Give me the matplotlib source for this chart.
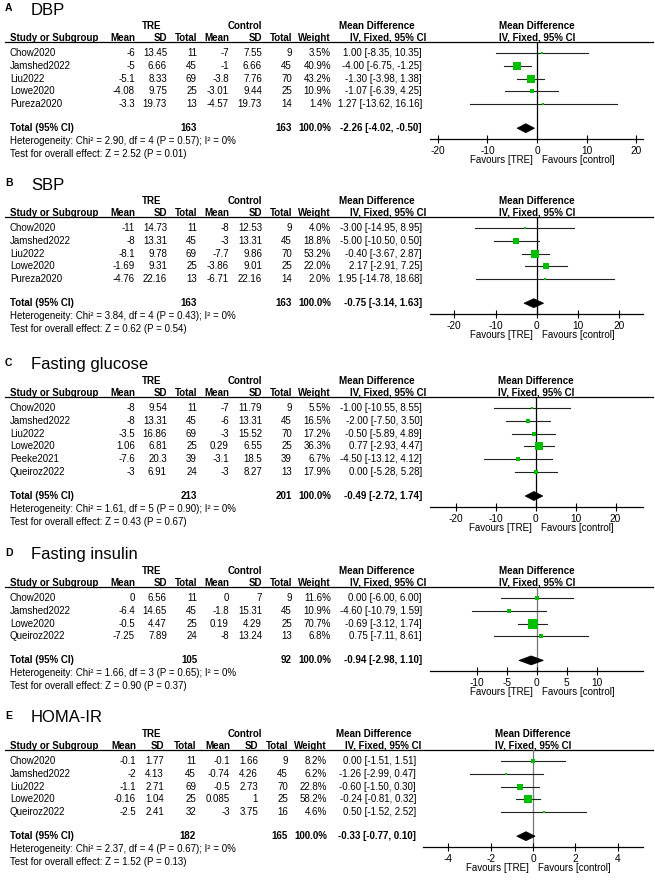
import matplotlib
matplotlib.use('Agg')
import matplotlib.pyplot as plt
from matplotlib.patches import Polygon
import numpy as np

plt.rcParams['font.family'] = ['Liberation Sans', 'DejaVu Sans']
plt.rcParams['axes.unicode_minus'] = False

letters = ['A', 'B', 'C', 'D', 'E']
titles = ['DBP', 'SBP', 'Fasting glucose', 'Fasting insulin', 'HOMA-IR']

studies = [
    ['Chow2020', 'Jamshed2022', 'Liu2022', 'Lowe2020', 'Pureza2020'],
    ['Chow2020', 'Jamshed2022', 'Liu2022', 'Lowe2020', 'Pureza2020'],
    ['Chow2020', 'Jamshed2022', 'Liu2022', 'Lowe2020', 'Peeke2021', 'Queiroz2022'],
    ['Chow2020', 'Jamshed2022', 'Lowe2020', 'Queiroz2022'],
    ['Chow2020', 'Jamshed2022', 'Liu2022', 'Lowe2020', 'Queiroz2022'],
]
tre_mean = [
    [-6, -5, -5.1, -4.08, -3.3],
    [-11, -8, -8.1, -1.69, -4.76],
    [-8, -8, -3.5, 1.06, -7.6, -3],
    [0, -6.4, -0.5, -7.25],
    [-0.1, -2, -1.1, -0.16, -2.5],
]
tre_sd = [
    [13.45, 6.66, 8.33, 9.75, 19.73],
    [14.73, 13.31, 9.78, 9.31, 22.16],
    [9.54, 13.31, 16.86, 6.81, 20.3, 6.91],
    [6.56, 14.65, 4.47, 7.89],
    [1.77, 4.13, 2.71, 1.04, 2.41],
]
tre_n = [
    [11, 45, 69, 25, 13],
    [11, 45, 69, 25, 13],
    [11, 45, 69, 25, 39, 24],
    [11, 45, 25, 24],
    [11, 45, 69, 25, 32],
]
ctl_mean = [
    [-7, -1, -3.8, -3.01, -4.57],
    [-8, -3, -7.7, -3.86, -6.71],
    [-7, -6, -3, 0.29, -3.1, -3],
    [0, -1.8, 0.19, -8],
    [-0.1, -0.74, -0.5, 0.085, -3],
]
ctl_sd = [
    [7.55, 6.66, 7.76, 9.44, 19.73],
    [12.53, 13.31, 9.86, 9.01, 22.16],
    [11.79, 13.31, 15.52, 6.55, 18.5, 8.27],
    [7, 15.31, 4.29, 13.24],
    [1.66, 4.26, 2.73, 1, 3.75],
]
ctl_n = [
    [9, 45, 70, 25, 14],
    [9, 45, 70, 25, 14],
    [9, 45, 70, 25, 39, 13],
    [9, 45, 25, 13],
    [9, 45, 70, 25, 16],
]
weights = [
    [3.5, 40.9, 43.2, 10.9, 1.4],
    [4.0, 18.8, 53.2, 22.0, 2.0],
    [5.5, 16.5, 17.2, 36.3, 6.7, 17.9],
    [11.6, 10.9, 70.7, 6.8],
    [8.2, 6.2, 22.8, 58.2, 4.6],
]
md = [
    [1.00, -4.00, -1.30, -1.07, 1.27],
    [-3.00, -5.00, -0.40, 2.17, 1.95],
    [-1.00, -2.00, -0.50, 0.77, -4.50, 0.00],
    [0.00, -4.60, -0.69, 0.75],
    [0.00, -1.26, -0.60, -0.24, 0.50],
]
ci_lo = [
    [-8.35, -6.75, -3.98, -6.39, -13.62],
    [-14.95, -10.50, -3.67, -2.91, -14.78],
    [-10.55, -7.50, -5.89, -2.93, -13.12, -5.28],
    [-6.00, -10.79, -3.12, -7.11],
    [-1.51, -2.99, -1.50, -0.81, -1.52],
]
ci_hi = [
    [10.35, -1.25, 1.38, 4.25, 16.16],
    [8.95, 0.50, 2.87, 7.25, 18.68],
    [8.55, 3.50, 4.89, 4.47, 4.12, 5.28],
    [6.00, 1.59, 1.74, 8.61],
    [1.51, 0.47, 0.30, 0.32, 2.52],
]
pooled_md = [-2.26, -0.75, -0.49, -0.94, -0.33]
pooled_lo = [-4.02, -3.14, -2.72, -2.98, -0.77]
pooled_hi = [-0.50, 1.63, 1.74, 1.10, 0.10]
chi2 = [2.90, 3.84, 1.61, 1.66, 2.37]
het_df = [4, 4, 5, 3, 4]
het_p = [0.57, 0.43, 0.90, 0.65, 0.67]
i2 = [0, 0, 0, 0, 0]
z_val = [2.52, 0.62, 0.43, 0.90, 1.52]
z_p = [0.01, 0.54, 0.67, 0.37, 0.13]
x_ticks = [
    [-20, -10, 0, 10, 20],
    [-20, -10, 0, 10, 20],
    [-20, -10, 0, 10, 20],
    [-10, -5, 0, 5, 10],
    [-4, -2, 0, 2, 4],
]

# layout (pixels)
W, H = 655, 886
line_y = [42, 217, 397, 587, 750]
x_lims = [(-21.6, 21.4), (-25.9, 25.7), (-26.6, 26.9), (-17.8, 17.7), (-5.2, 5.2)]
zero_col = ['black', 'black', 'black', '#777777', '#777777']
row_step = 12.8
fs = 7
green = '#00c000'

fig = plt.figure(figsize=(W / 100, H / 100), dpi=100)
base = fig.add_axes([0, 0, 1, 1])
base.set_xlim(0, W)
base.set_ylim(H, 0)
base.axis('off')


def put(x, y, s, ha='right', bold=False, va='center', size=fs):
    base.text(x, y, s, ha=ha, va=va, fontsize=size,
              fontweight='bold' if bold else 'normal')


def fmt(v):
    return f"{v:g}"


for p in range(5):
    L = line_y[p]
    if p == 4:
        col = dict(tm=136, tsd=164, tn=196, cm=230, csd=258, cn=288, w=327, ci=416, mdh=374, ivh=383)
        fx0 = 423
    else:
        col = dict(tm=135, tsd=167, tn=197, cm=229, csd=262, cn=292, w=331, ci=422, mdh=377, ivh=388)
        fx0 = 430
    fx1 = 643
    n = len(studies[p])
    rows = [L + 11 + row_step * i for i in range(n)]
    y_tot = rows[-1] + 24
    y_axis = y_tot + 11

    # titles
    put(5, L - 34, letters[p], ha='left', bold=True, size=7.5)
    put(31, L - 32, titles[p], ha='left', size=12)

    # headers
    xl0, xl1 = x_lims[p]
    zero_px = fx0 + (0 - xl0) / (xl1 - xl0) * (fx1 - fx0)
    put(152, L - 16, 'TRE', ha='center', bold=True)
    put(245, L - 16, 'Control', ha='center', bold=True)
    put(col['mdh'], L - 16, 'Mean Difference', ha='center', bold=True)
    put(zero_px, L - 16, 'Mean Difference', ha='center', bold=True)
    hb = L - 1.2
    put(10, hb, 'Study or Subgroup', ha='left', bold=True, va='baseline')
    for key, lab in [('tm', 'Mean'), ('tsd', 'SD'), ('tn', 'Total'), ('cm', 'Mean'),
                     ('csd', 'SD'), ('cn', 'Total'), ('w', 'Weight')]:
        put(col[key], hb, lab, bold=True, va='baseline')
    put(col['ivh'], hb, 'IV, Fixed, 95% CI', ha='center', bold=True, va='baseline')
    put(zero_px, hb, 'IV, Fixed, 95% CI', ha='center', bold=True, va='baseline')
    base.plot([5, 653], [L, L], color='black', lw=0.9)

    # study rows
    for i, y in enumerate(rows):
        put(10, y, studies[p][i], ha='left')
        put(col['tm'], y, fmt(tre_mean[p][i]))
        put(col['tsd'], y, fmt(tre_sd[p][i]))
        put(col['tn'], y, str(tre_n[p][i]))
        put(col['cm'], y, fmt(ctl_mean[p][i]))
        put(col['csd'], y, fmt(ctl_sd[p][i]))
        put(col['cn'], y, str(ctl_n[p][i]))
        put(col['w'], y, f"{weights[p][i]:.1f}%")
        put(col['ci'], y, f"{md[p][i]:.2f} [{ci_lo[p][i]:.2f}, {ci_hi[p][i]:.2f}]")

    # total rows
    put(10, y_tot, 'Total (95% CI)', ha='left', bold=True)
    put(col['tn'], y_tot, str(sum(tre_n[p])), bold=True)
    put(col['cn'], y_tot, str(sum(ctl_n[p])), bold=True)
    put(col['w'], y_tot, '100.0%', bold=True)
    put(col['ci'], y_tot, f"{pooled_md[p]:.2f} [{pooled_lo[p]:.2f}, {pooled_hi[p]:.2f}]", bold=True)
    put(10, y_tot + 13, f"Heterogeneity: Chi² = {chi2[p]:.2f}, df = {het_df[p]} "
                        f"(P = {het_p[p]:.2f}); I² = {i2[p]}%", ha='left')
    put(10, y_tot + 26, f"Test for overall effect: Z = {z_val[p]:.2f} (P = {z_p[p]:.2f})", ha='left')

    # forest plot
    fa = fig.add_axes([fx0 / W, 1 - y_axis / H, (fx1 - fx0) / W, (y_axis - L) / H])
    fa.set_xlim(xl0, xl1)
    fa.set_ylim(y_axis, L)
    fa.set_facecolor('none')
    for s in ['top', 'left', 'right']:
        fa.spines[s].set_visible(False)
    fa.spines['bottom'].set_linewidth(0.9)
    fa.set_yticks([])
    fa.set_xticks(x_ticks[p])
    fa.tick_params(axis='x', direction='inout', length=6, width=0.8, labelsize=7.3, pad=2)
    fa.axvline(0, color=zero_col[p], lw=0.9, zorder=1)
    for i, y in enumerate(rows):
        fa.plot([ci_lo[p][i], ci_hi[p][i]], [y, y], color='#222222', lw=0.8, zorder=2)
        fa.scatter(md[p][i], y, marker='s', s=max(0.7 * weights[p][i], 2.0),
                   color=green, linewidths=0, zorder=3)
    fa.add_patch(Polygon([(pooled_lo[p], y_tot), (pooled_md[p], y_tot - 4.5),
                          (pooled_hi[p], y_tot), (pooled_md[p], y_tot + 4.5)],
                         closed=True, facecolor='black', edgecolor='black', lw=0.5, zorder=4))

    put(zero_px - 4, y_axis + 21, 'Favours [TRE]')
    put(zero_px + 5, y_axis + 21, 'Favours [control]', ha='left')

fig.savefig('out.png', dpi=100)
